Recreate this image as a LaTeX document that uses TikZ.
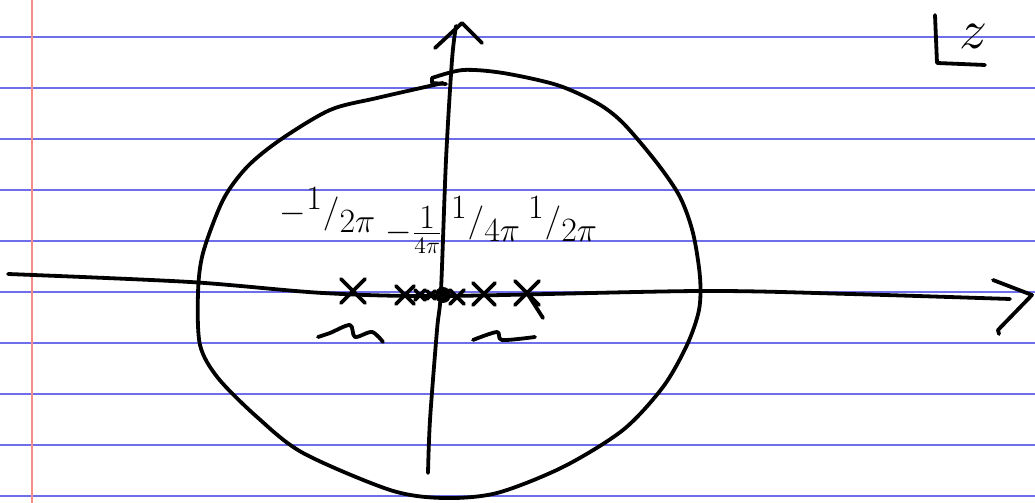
\documentclass[tikz,border=0pt]{standalone}
\usepackage{graphicx}
\usepackage{amsmath}
\usetikzlibrary{calc}
\definecolor{rulec}{RGB}{110,110,235}
\definecolor{marginc}{RGB}{245,140,140}
\tikzset{
  pen/.style={line width=2.7pt,line cap=round,line join=round,black},
  rule/.style={line width=0.9pt,rulec},
  margin/.style={line width=1pt,marginc},
  lab/.style={font=\LARGE,inner sep=0pt},
}
% a hand-drawn cross of half-size #3 centred at (#1,#2)
\newcommand{\polecross}[3]{%
  \draw[pen] (#1-#3,#2-#3) -- (#1+#3,#2+#3);
  \draw[pen] (#1+#3,#2-#3) -- (#1-#3,#2+#3);}
\newcommand{\biglab}[1]{\scalebox{1.4}{#1}}
\begin{document}
\begin{tikzpicture}[x=0.025cm,y=-0.025cm]
  % ---- the ruled page ----
  \fill[white] (0,0) rectangle (1035,503);
  \useasboundingbox (0,0) rectangle (1035,503);
  \foreach \y in {37,88,...,496}
    \draw[rule] (0,\y) -- (1035,\y);
  \draw[margin] (32,0) -- (32,503);
  % ---- axes ----
  \coordinate (rw) at (8,274);
  \coordinate (re) at (1010,299);
  \coordinate (is) at (428,473);
  \coordinate (in) at (456,26);
  \draw[pen] plot[smooth] coordinates {(rw) (190,282) (323,293) (443,296)
    (700,291) (850,294) (re)};
  \draw[pen] plot[smooth] coordinates {(is) (430,420) (437,330) (441,290)
    (446,160) (452,60) (in)};
  \draw[pen] (993,280) -- (1032,295) -- (998,330) -- (999,334);
  \draw[pen] (435,48) -- (462,23) -- (482,43);
  % ---- the contour ----
  \draw[pen] plot[smooth,tension=0.5] coordinates {
    (432,78) (463,70) (503,73) (557,85) (597,103) (623,123) (657,163)
    (680,197) (693,233) (700,277) (699,310) (687,345) (663,387) (623,430)
    (563,467) (497,493) (443,498) (390,490) (303,453) (257,417) (218,378)
    (200,345) (198,293) (203,253) (223,200) (247,167) (280,140) (330,110)
    (377,98) (443,83)};
  \draw[pen] (432,78) -- (432,83) -- (446,84);
  % ---- poles on the real axis ----
  \polecross{353}{291}{12}
  \polecross{405}{295}{9}
  \polecross{420}{295}{5}
  \polecross{431}{295}{4}
  \polecross{457}{297}{7}
  \polecross{484}{294}{11}
  \polecross{527}{293}{12}
  \draw[pen] (527,293) -- (543,318);
  \fill (443,295) circle (8);
  % ---- labels ----
  \node[lab] (lm2) at (328,210) {\biglab{$-{}^{\textstyle 1}/_{\textstyle 2\pi}$}};
  \node[lab] (lm4) at (414,230) {\biglab{$-\frac{\textstyle 1}{4\pi}$}};
  \node[lab] (lp4) at (486,219) {\biglab{${}^{\textstyle 1}/_{\textstyle 4\pi}$}};
  \node[lab] (lp2) at (563,219) {\biglab{${}^{\textstyle 1}/_{\textstyle 2\pi}$}};
  % ---- squiggles below the poles ----
  \draw[pen] plot[smooth] coordinates {(318,337) (330,333) (350,325)
    (355,337) (372,332) (383,342)};
  \draw[pen] plot[smooth] coordinates {(473,340) (497,332) (502,340)
    (535,337)};
  % ---- the z corner ----
  \draw[pen] (935,15) -- (937,63) -- (985,65);
  \node[lab,font=\Huge] (zz) at (973,36) {\scalebox{1.6}{$z$}};
\end{tikzpicture}
\end{document}
